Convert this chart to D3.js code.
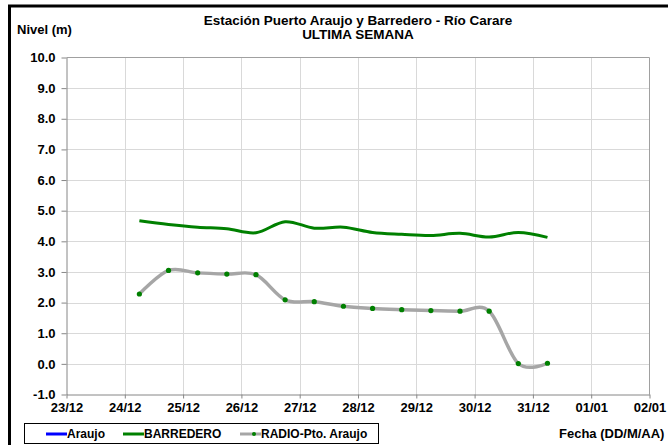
<!DOCTYPE html>
<html>
<head>
<meta charset="utf-8">
<script src="https://cdn.jsdelivr.net/npm/d3@7"></script>
<style>
    body { margin: 0; background: #fff; }
    text { font-family: "Liberation Sans", Arial, sans-serif; font-weight: bold; fill: #000; }
</style>
</head>
<body>
<div id="chart1"></div>
<script>
// lecturas cada 12 horas
const fechas = [
    '2019-12-24 06:00', '2019-12-24 18:00', '2019-12-25 06:00', '2019-12-25 18:00',
    '2019-12-26 06:00', '2019-12-26 18:00', '2019-12-27 06:00', '2019-12-27 18:00',
    '2019-12-28 06:00', '2019-12-28 18:00', '2019-12-29 06:00', '2019-12-29 18:00',
    '2019-12-30 06:00', '2019-12-30 18:00', '2019-12-31 06:00'
];
const barredero = [4.67, 4.55, 4.46, 4.41, 4.28, 4.64, 4.43, 4.46, 4.29, 4.23, 4.19, 4.26, 4.14, 4.29, 4.13];
const radio_araujo = [2.28, 3.05, 2.97, 2.93, 2.91, 2.09, 2.03, 1.88, 1.81, 1.77, 1.74, 1.72, 1.72, 0.01, 0.02];
const araujo = []; // sin datos

const y_ticks = [-1, 0, 1, 2, 3, 4, 5, 6, 7, 8, 9, 10];
const x_domain = ['2019-12-23 00:00', '2020-01-02 00:00'];

const legend_items = [
    { name: 'Araujo', color: '#0000ff', marker: false },
    { name: 'BARREDERO', color: '#008000', marker: false },
    { name: 'RADIO-Pto. Araujo', color: '#a6a6a6', marker: true }
];

const time_parse = d3.timeParse('%Y-%m-%d %H:%M');
const time_format = d3.timeFormat('%d/%m');

const chart_width = 668;
const chart_height = 445;

const plot_left = 66.5;
const plot_right = 649.5;
const plot_top = 57.5;
const plot_bottom = 394.5;

const series_green = fechas.map((f, i) => ({ date: time_parse(f), val: barredero[i] }));
const series_gray = fechas.map((f, i) => ({ date: time_parse(f), val: radio_araujo[i] }));

// Scales
const x_scale = d3.scaleTime()
    .domain(x_domain.map(time_parse))
    .range([plot_left, plot_right]);

const y_scale = d3.scaleLinear()
    .domain([-1, 10])
    .range([plot_bottom, plot_top]);

const svg = d3.select('#chart1')
    .append('svg')
    .attr('width', chart_width)
    .attr('height', chart_height);

// marco negro
svg.append('rect')
    .attr('x', 9.5)
    .attr('y', 6)
    .attr('width', 700)
    .attr('height', 500)
    .attr('fill', 'none')
    .attr('stroke', '#000')
    .attr('stroke-width', 3);

// grid
const day_ticks = x_scale.ticks(d3.timeDay.every(1));
svg.append('g')
    .selectAll('line')
    .data(day_ticks.slice(1, -1))
    .join('line')
    .attr('x1', d => Math.round(x_scale(d)) + 0.5)
    .attr('x2', d => Math.round(x_scale(d)) + 0.5)
    .attr('y1', plot_top)
    .attr('y2', plot_bottom)
    .attr('stroke', '#d9d9d9');

svg.append('g')
    .selectAll('line')
    .data(y_ticks.slice(1, -1))
    .join('line')
    .attr('x1', plot_left)
    .attr('x2', plot_right)
    .attr('y1', d => Math.round(y_scale(d)) + 0.5)
    .attr('y2', d => Math.round(y_scale(d)) + 0.5)
    .attr('stroke', '#d9d9d9');

// borde superior y derecho
svg.append('path')
    .attr('d', `M${plot_left},${plot_top}H${plot_right}V${plot_bottom}`)
    .attr('fill', 'none')
    .attr('stroke', '#a0a0a0');

// Axis
const x_axis = d3.axisBottom(x_scale)
    .tickValues(day_ticks)
    .tickSize(4)
    .tickSizeOuter(0)
    .tickPadding(4)
    .tickFormat(time_format);

const y_axis = d3.axisLeft(y_scale)
    .tickValues(y_ticks)
    .tickSize(5)
    .tickSizeOuter(0)
    .tickPadding(6)
    .tickFormat(d => d.toFixed(1));

const gx = svg.append('g')
    .attr('transform', `translate(0,${plot_bottom})`)
    .call(x_axis);
const gy = svg.append('g')
    .attr('transform', `translate(${plot_left},0)`)
    .call(y_axis);

[gx, gy].forEach(g => {
    g.selectAll('path, line').attr('stroke', '#868686');
    g.selectAll('text')
        .attr('fill', '#000')
        .style('font-size', '13px')
        .style('font-family', '"Liberation Sans", Arial, sans-serif')
        .style('font-weight', 'bold');
});

// Lines
const line = d3.line()
    .curve(d3.curveCardinal.tension(0))
    .x(d => x_scale(d.date))
    .y(d => y_scale(d.val));

svg.append('path')
    .datum(series_gray)
    .attr('fill', 'none')
    .attr('stroke', '#a6a6a6')
    .attr('stroke-width', 3.5)
    .attr('d', line);

svg.append('g')
    .selectAll('circle')
    .data(series_gray)
    .join('circle')
    .attr('cx', d => x_scale(d.date))
    .attr('cy', d => y_scale(d.val))
    .attr('r', 2.6)
    .attr('fill', '#008000');

svg.append('path')
    .datum(series_green)
    .attr('fill', 'none')
    .attr('stroke', '#008000')
    .attr('stroke-width', 3)
    .attr('d', line);

// Titles
svg.append('text')
    .attr('x', (plot_left + plot_right) / 2)
    .attr('y', 25)
    .attr('text-anchor', 'middle')
    .style('font-size', '13.5px')
    .text('Estación Puerto Araujo y Barredero - Río Carare');
svg.append('text')
    .attr('x', (plot_left + plot_right) / 2)
    .attr('y', 39)
    .attr('text-anchor', 'middle')
    .style('font-size', '13.5px')
    .text('ULTIMA SEMANA');

svg.append('text')
    .attr('x', 17)
    .attr('y', 34)
    .style('font-size', '13px')
    .text('Nivel (m)');

svg.append('text')
    .attr('x', 559)
    .attr('y', 438)
    .style('font-size', '13px')
    .text('Fecha (DD/M/AA)');

// Legend
svg.append('rect')
    .attr('x', 24.5)
    .attr('y', 423.5)
    .attr('width', 354)
    .attr('height', 20)
    .attr('fill', '#fff')
    .attr('stroke', '#000');

const legend_x = [46, 123, 240];
const lg = svg.append('g')
    .selectAll('g')
    .data(legend_items)
    .join('g')
    .attr('transform', (d, i) => `translate(${legend_x[i]},434)`);

lg.append('line')
    .attr('x1', 0)
    .attr('x2', 21)
    .attr('stroke', d => d.color)
    .attr('stroke-width', 3);
lg.filter(d => d.marker)
    .append('circle')
    .attr('cx', 14)
    .attr('r', 2)
    .attr('fill', '#008000');
lg.append('text')
    .attr('x', 21)
    .attr('dy', '0.36em')
    .style('font-size', '12px')
    .text(d => d.name);
</script>
</body>
</html>
